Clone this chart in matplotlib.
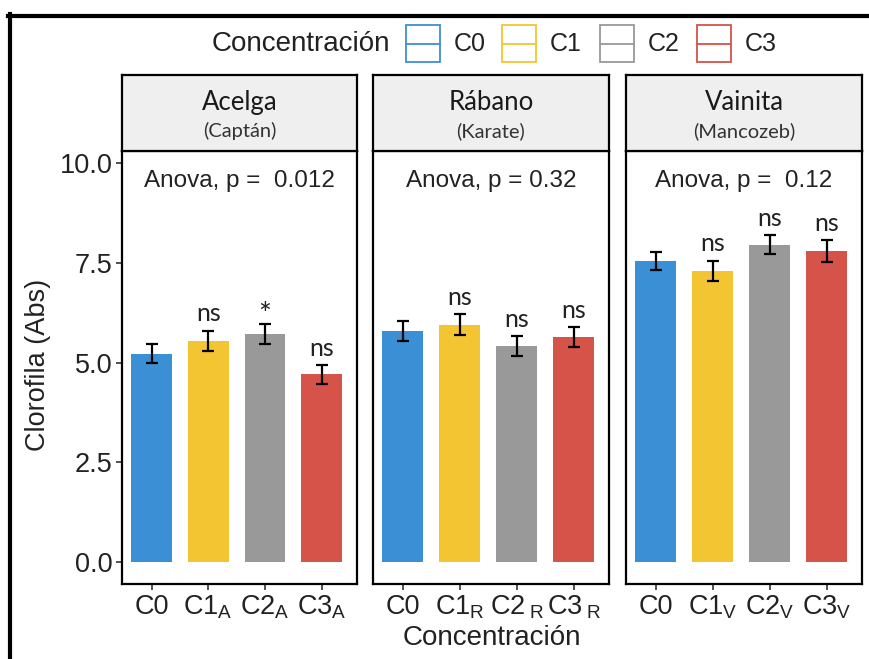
import matplotlib
matplotlib.use('Agg')
import matplotlib.pyplot as plt
from matplotlib.patches import Rectangle
from matplotlib.lines import Line2D

plt.rcParams['font.family'] = 'Liberation Sans'
plt.rcParams['mathtext.fontset'] = 'custom'
plt.rcParams['mathtext.rm'] = 'Liberation Sans'

W, H = 870, 659

concentraciones = ['C0', 'C1', 'C2', 'C3']
colores = ['#3A8FD5', '#F3C532', '#999999', '#D6534A']

cultivos = ['Acelga', 'Rábano', 'Vainita']
fungicidas = ['(Captán)', '(Karate)', '(Mancozeb)']
anova_txt = ['Anova, p =  0.012', 'Anova, p = 0.32', 'Anova, p =  0.12']

media_acelga = [5.22, 5.55, 5.72, 4.70]
err_acelga = [0.24, 0.25, 0.25, 0.24]
media_rabano = [5.80, 5.95, 5.42, 5.63]
err_rabano = [0.25, 0.26, 0.25, 0.25]
media_vainita = [7.55, 7.30, 7.95, 7.80]
err_vainita = [0.22, 0.25, 0.24, 0.27]

sig_acelga = ['', 'ns', '*', 'ns']
sig_rabano = ['', 'ns', 'ns', 'ns']
sig_vainita = ['', 'ns', 'ns', 'ns']

ticks_acelga = ['C0', r'C1$_\mathregular{A}$', r'C2$_\mathregular{A}$', r'C3$_\mathregular{A}$']
ticks_rabano = ['C0', r'C1$_\mathregular{R}$', r'C2$\,_\mathregular{R}$', r'C3$\,_\mathregular{R}$']
ticks_vainita = ['C0', r'C1$_\mathregular{V}$', r'C2$_\mathregular{V}$', r'C3$_\mathregular{V}$']

medias = [media_acelga, media_rabano, media_vainita]
errores = [err_acelga, err_rabano, err_vainita]
sigs = [sig_acelga, sig_rabano, sig_vainita]
ticks = [ticks_acelga, ticks_rabano, ticks_vainita]


def px(x0, y0, x1, y1):
    # pixel box (top-left origin) -> figure fraction rect
    return [x0 / W, 1 - y1 / H, (x1 - x0) / W, (y1 - y0) / H]


fig = plt.figure(figsize=(W / 100, H / 100), dpi=100)

paneles = [(122, 357), (373, 609), (626, 862)]
strip_top, panel_top, panel_bot = 75, 151, 584

for i, (x0, x1) in enumerate(paneles):
    ax = fig.add_axes(px(x0, panel_top, x1, panel_bot))
    pos = [1, 2, 3, 4]
    ax.bar(pos, medias[i], width=0.72, color=colores, zorder=2)
    ax.errorbar(pos, medias[i], yerr=errores[i], fmt='none', ecolor='black',
                elinewidth=1.6, capsize=4, capthick=1.6, zorder=3)
    for p, m, e, s in zip(pos, medias[i], errores[i], sigs[i]):
        if s == '*':
            ax.text(p, m + e + 0.22, s, ha='center', va='center',
                    fontsize=22, family='Lato', color='#222222')
        elif s:
            ax.text(p, m + e + 0.42, s, ha='center', va='center',
                    fontsize=18, family='Lato', color='#222222')
    ax.text(0.5, 0.955, anova_txt[i], transform=ax.transAxes, ha='center',
            va='top', fontsize=17.5, color='#222222')
    ax.set_xlim(0.48, 4.62)
    ax.set_ylim(-0.55, 10.3)
    ax.set_xticks(pos)
    ax.set_xticklabels(ticks[i])
    ax.set_yticks([0, 2.5, 5, 7.5, 10])
    if i == 0:
        ax.set_yticklabels(['0.0', '2.5', '5.0', '7.5', '10.0'])
    else:
        ax.tick_params(axis='y', left=False, labelleft=False)
    ax.tick_params(axis='both', labelsize=19.5, length=4, width=1.2,
                   color='#333333', labelcolor='#222222', pad=3)
    for sp in ax.spines.values():
        sp.set_linewidth(1.6)

    # strip header
    sa = fig.add_axes(px(x0, strip_top, x1, panel_top))
    sa.set_facecolor('#EFEFEF')
    sa.set_xticks([])
    sa.set_yticks([])
    for sp in sa.spines.values():
        sp.set_linewidth(1.6)
    sa.text(0.5, 0.64, cultivos[i], ha='center', va='center', fontsize=18.5,
            family='Lato', color='#1a1a1a')
    sa.text(0.5, 0.26, fungicidas[i], ha='center', va='center', fontsize=14.5,
            family='Lato', color='#333333')

fig.text(38 / W, 1 - 365 / H, 'Clorofila (Abs)', rotation=90, ha='center',
         va='center', fontsize=19.5, color='#222222')
fig.text(492 / W, 1 - 638 / H, 'Concentración', ha='center', va='center',
         fontsize=20, color='#222222')

# legend
fig.text(390 / W, 1 - 44 / H, 'Concentración', ha='right', va='center',
         fontsize=20, color='#222222')
keys_x = [406, 502, 600, 697]
for cx, c, lab in zip(keys_x, colores, concentraciones):
    fig.add_artist(Rectangle((cx / W, 1 - 62 / H), 34 / W, 37 / H,
                             transform=fig.transFigure, facecolor='white',
                             edgecolor=c, linewidth=1.3))
    fig.add_artist(Line2D([cx / W, (cx + 34) / W], [1 - 43.5 / H, 1 - 43.5 / H],
                          transform=fig.transFigure, color=c, linewidth=1.3))
    fig.text((cx + 48) / W, 1 - 44 / H, lab, ha='left', va='center',
             fontsize=18, color='#222222')

# outer frame
fig.add_artist(Line2D([8 / W, 1.0], [1 - 15.5 / H, 1 - 15.5 / H],
                      transform=fig.transFigure, color='black', linewidth=3))
fig.add_artist(Line2D([10.5 / W, 10.5 / W], [1 - 14 / H, 0.0],
                      transform=fig.transFigure, color='black', linewidth=3))

fig.savefig('out.png', dpi=100)
